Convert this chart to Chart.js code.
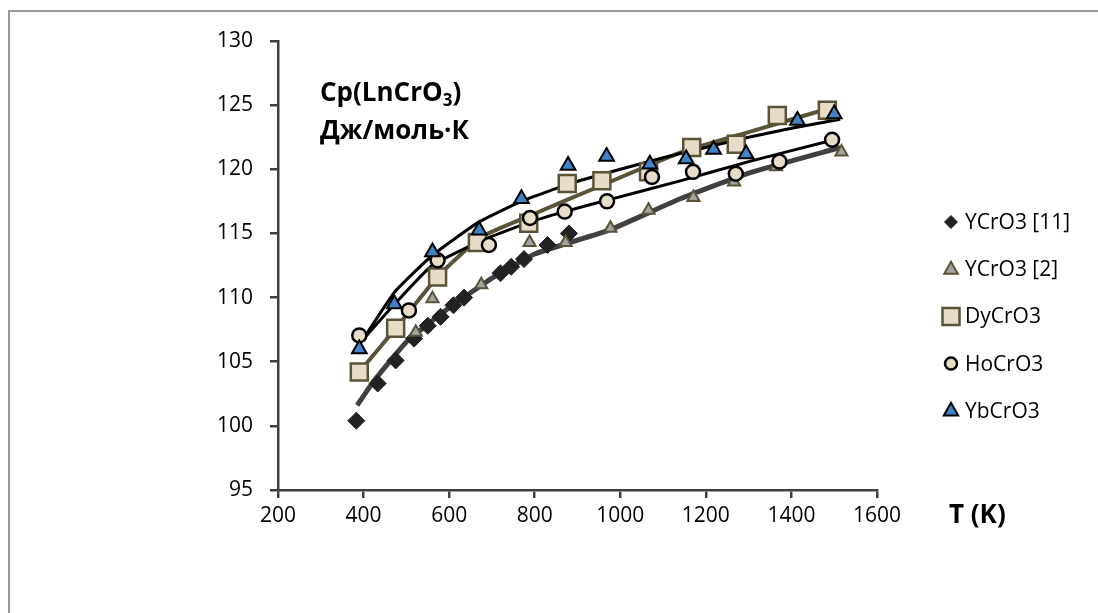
<!DOCTYPE html>
<html>
<head>
<meta charset="utf-8">
<script src="https://cdn.jsdelivr.net/npm/chart.js@4.4.1/dist/chart.umd.min.js"></script>
<style>
  body { margin: 0; background: #fff; overflow: hidden; }
  #marco { position: absolute; left: 8px; top: 10px; width: 1200px; height: 700px;
           border-left: 2px solid #9a9a9a; border-top: 2px solid #9a9a9a; }
  #grafico { position: absolute; left: 0; top: 0; }
  .texto { position: absolute; font-family: 'Open Sans', sans-serif; font-weight: bold; color: #000; }
  #titulo { left: 320px; top: 72px; font-size: 26px; line-height: 38px; }
  #titulo sub { font-size: 17px; vertical-align: -5px; line-height: 0; }
  #ejeX { left: 949px; top: 495px; font-size: 26px; }
</style>
</head>
<body>
<div id="marco"></div>
<canvas id="grafico" width="1098" height="613"></canvas>
<div class="texto" id="titulo">Cp(LnCrO<sub>3</sub>)<br>Дж/моль·К</div>
<div class="texto" id="ejeX">T (K)</div>
<script>
// puntos experimentales
const tempY11 = [383, 433, 475, 518, 550, 580, 610, 635, 720, 745, 775, 830, 880];
const cpY11 = [100.4, 103.3, 105.1, 106.8, 107.8, 108.5, 109.4, 110.0, 111.9, 112.4, 113.0, 114.1, 115.0];

const tempY2 = [522, 561, 675, 788, 872, 977, 1066, 1171, 1266, 1364, 1517];
const cpY2 = [107.3, 109.9, 111.0, 114.3, 114.3, 115.4, 116.8, 117.8, 119.0, 120.2, 121.35];

const tempDy = [390, 475, 573, 666, 786, 876, 957, 1066, 1167, 1271, 1367, 1484];
const cpDy = [104.2, 107.6, 111.6, 114.3, 115.8, 118.9, 119.1, 119.8, 121.7, 121.95, 124.2, 124.6];

const tempHo = [390, 506, 573, 693, 789, 870, 969, 1074, 1170, 1270, 1372, 1495];
const cpHo = [107.05, 109.0, 112.9, 114.1, 116.2, 116.7, 117.5, 119.4, 119.8, 119.65, 120.6, 122.3];

const tempYb = [390, 472, 561, 670, 769, 878, 968, 1069, 1154, 1218, 1294, 1414, 1500];
const cpYb = [106.0, 109.5, 113.55, 115.25, 117.7, 120.3, 121.0, 120.4, 120.8, 121.55, 121.2, 123.8, 124.3];

// lineas de tendencia
const lineaTempY = [385, 424, 502, 600, 704, 800, 977, 1140, 1300, 1514];
const lineaCpY = [101.6, 103.5, 106.6, 109.2, 111.6, 113.4, 115.3, 117.7, 119.7, 121.7];

const lineaTempDy = [390, 475, 575, 674, 783, 946, 1140, 1300, 1483];
const lineaCpDy = [104.2, 107.6, 111.7, 114.7, 116.3, 118.6, 121.3, 122.9, 124.7];

const lineaTempHo = [390, 470, 560, 680, 790, 870, 970, 1140, 1300, 1500];
const lineaCpHo = [106.4, 109.4, 112.5, 114.5, 115.9, 116.7, 117.6, 119.1, 120.6, 122.3];

const lineaTempYb = [390, 472, 561, 670, 769, 884, 1000, 1100, 1200, 1300, 1400, 1514];
const lineaCpYb = [106.3, 110.4, 113.3, 115.9, 117.5, 118.9, 120.0, 120.9, 121.7, 122.5, 123.2, 123.9];

const ejeXTicks = [200, 400, 600, 800, 1000, 1200, 1400, 1600];
const ejeYTicks = [95, 100, 105, 110, 115, 120, 125, 130];

const leyenda = ['YCrO3 [11]', 'YCrO3 [2]', 'DyCrO3', 'HoCrO3', 'YbCrO3'];

const aPuntos = (xs, ys) => xs.map((x, i) => ({ x: x, y: ys[i] }));

const colorOliva = '#5a5338';
const colorBeige = '#e6dcc7';

const series = [
    { label: leyenda[4], data: aPuntos(tempYb, cpYb), pointStyle: 'triangle', pointRadius: 8.5,
      backgroundColor: '#4282c6', borderColor: '#000', pointBorderWidth: 2 },
    { label: leyenda[3], data: aPuntos(tempHo, cpHo), pointStyle: 'circle', pointRadius: 7,
      backgroundColor: colorBeige, borderColor: '#000', pointBorderWidth: 2.5 },
    { label: leyenda[2], data: aPuntos(tempDy, cpDy), pointStyle: 'rect', pointRadius: 12,
      backgroundColor: colorBeige, borderColor: colorOliva, pointBorderWidth: 2.5 },
    { label: leyenda[1], data: aPuntos(tempY2, cpY2), pointStyle: 'triangle', pointRadius: 7,
      backgroundColor: '#a3a3a3', borderColor: colorOliva, pointBorderWidth: 2 },
    { label: leyenda[0], data: aPuntos(tempY11, cpY11), pointStyle: 'rectRot', pointRadius: 8.5,
      backgroundColor: '#222', borderColor: '#222', pointBorderWidth: 1 },
].map((s) => ({ ...s, showLine: false, pointHoverRadius: s.pointRadius }));

const lineas = [
    { data: aPuntos(lineaTempYb, lineaCpYb), borderColor: '#000', borderWidth: 3 },
    { data: aPuntos(lineaTempHo, lineaCpHo), borderColor: '#000', borderWidth: 3 },
    { data: aPuntos(lineaTempDy, lineaCpDy), borderColor: colorOliva, borderWidth: 4 },
    { data: aPuntos(lineaTempY, lineaCpY), borderColor: '#404040', borderWidth: 5 },
].map((l) => ({ ...l, label: '', showLine: true, pointRadius: 0, tension: 0.15, fill: false }));

// dibuja un marcador como los del grafico
const dibujarMarcador = (ctx, estilo, x, y, r, relleno, borde, ancho) => {
    ctx.save();
    ctx.fillStyle = relleno;
    ctx.strokeStyle = borde;
    ctx.lineWidth = ancho;
    ctx.beginPath();
    if (estilo === 'circle') {
        ctx.arc(x, y, r, 0, Math.PI * 2);
    } else if (estilo === 'rect') {
        ctx.rect(x - r, y - r, r * 2, r * 2);
    } else if (estilo === 'rectRot') {
        ctx.moveTo(x, y - r); ctx.lineTo(x + r, y); ctx.lineTo(x, y + r); ctx.lineTo(x - r, y);
        ctx.closePath();
    } else {
        ctx.moveTo(x, y - r); ctx.lineTo(x + r * 0.9, y + r * 0.6); ctx.lineTo(x - r * 0.9, y + r * 0.6);
        ctx.closePath();
    }
    ctx.fill();
    ctx.stroke();
    ctx.restore();
};

const pluginLeyenda = {
    id: 'leyendaPropia',
    afterDraw: (chart) => {
        const ctx = chart.ctx;
        const items = [
            ['rectRot', 6.5, '#222', '#222', 1],
            ['triangle', 7.5, '#a3a3a3', colorOliva, 2],
            ['rect', 8.5, colorBeige, colorOliva, 2.5],
            ['circle', 6, colorBeige, '#000', 2.5],
            ['triangle', 8, '#4282c6', '#000', 2],
        ];
        ctx.save();
        ctx.font = '21px "Open Sans", sans-serif';
        ctx.fillStyle = '#000';
        ctx.textBaseline = 'middle';
        items.forEach((it, i) => {
            const y = 222 + i * 47.2;
            dibujarMarcador(ctx, it[0], 951, y, it[1], it[2], it[3], it[4]);
            ctx.fillText(leyenda[i], 965, y + 1);
        });
        ctx.restore();
    }
};

const fuenteTicks = { family: '"Open Sans", sans-serif', size: 21 };

new Chart(document.getElementById('grafico'), {
    type: 'scatter',
    data: { datasets: [...series, ...lineas] },
    options: {
        responsive: false,
        devicePixelRatio: 1,
        animation: false,
        layout: { padding: { left: 0, right: 221, top: 41, bottom: 83 } },
        plugins: { legend: { display: false }, tooltip: { enabled: false } },
        scales: {
            x: {
                type: 'linear', min: 200, max: 1600,
                afterBuildTicks: (eje) => { eje.ticks = ejeXTicks.map((v) => ({ value: v })); },
                afterFit: (eje) => { eje.height = 40; },
                ticks: { color: '#000', font: fuenteTicks, padding: 5, callback: (v) => String(v) },
                grid: { drawOnChartArea: false, tickLength: 8, color: '#404040', lineWidth: 2.5 },
                border: { color: '#404040', width: 2.5 },
            },
            y: {
                type: 'linear', min: 95, max: 130,
                afterBuildTicks: (eje) => { eje.ticks = ejeYTicks.map((v) => ({ value: v })); },
                afterFit: (eje) => { eje.width = 278; },
                ticks: { color: '#000', font: fuenteTicks, padding: 17, callback: (v) => String(v) },
                grid: { drawOnChartArea: false, tickLength: 8, color: '#404040', lineWidth: 2.5 },
                border: { color: '#404040', width: 2.5 },
            },
        },
    },
    plugins: [pluginLeyenda],
});
</script>
</body>
</html>
